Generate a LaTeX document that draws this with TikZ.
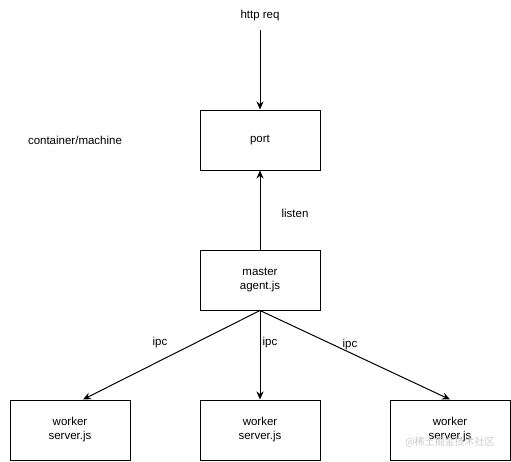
\documentclass[tikz,border=0pt]{standalone}
\usepackage{fontspec}
\setmainfont{Liberation Sans}
\newfontfamily\cjk{Noto Sans CJK SC}
\usetikzlibrary{arrows.meta}
\begin{document}
\begin{tikzpicture}[x=1pt,y=-1pt,
  box/.style={draw=black,line width=1pt,minimum width=120pt,minimum height=60pt,inner sep=0pt,align=center,font=\fontsize{11.5}{14}\selectfont},
  lbl/.style={font=\fontsize{11.5}{14}\selectfont,inner sep=1pt},
  conn/.style={line width=1pt,-{Stealth[length=8pt,width=7pt]}}]
\useasboundingbox[fill=white] (0,0) rectangle (511,461);
\node[lbl] (http) at (260,16) {http req};
\coordinate (httpend) at (260,30);
\node[box] (port) at (260,140) {port};
\node[lbl] (cm) at (75,140) {container/machine};
\node[box] (master) at (260,280) {master\\agent.js};
\node[box] (w1) at (70,430) {worker\\server.js};
\node[box] (w2) at (260,430) {worker\\server.js};
\node[box] (w3) at (450,430) {worker\\server.js};
\draw[conn] (httpend) -- (port.north);
\draw[conn] (master.north) -- (port.south);
\node[lbl] (listen) at (295,213) {listen};
\draw[conn] (master.south) -- ([xshift=13pt]w1.north);
\draw[conn] (master.south) -- (w2.north);
\draw[conn] (master.south) -- (w3.north);
\node[lbl] (ipc1) at (160,343) {ipc};
\node[lbl] (ipc2) at (270,343) {ipc};
\node[lbl] (ipc3) at (350,345) {ipc};
\node[font=\cjk\fontsize{10}{12}\selectfont,text=black!20] (wm) at (450,442) {@稀土掘金技术社区};
\end{tikzpicture}
\end{document}
